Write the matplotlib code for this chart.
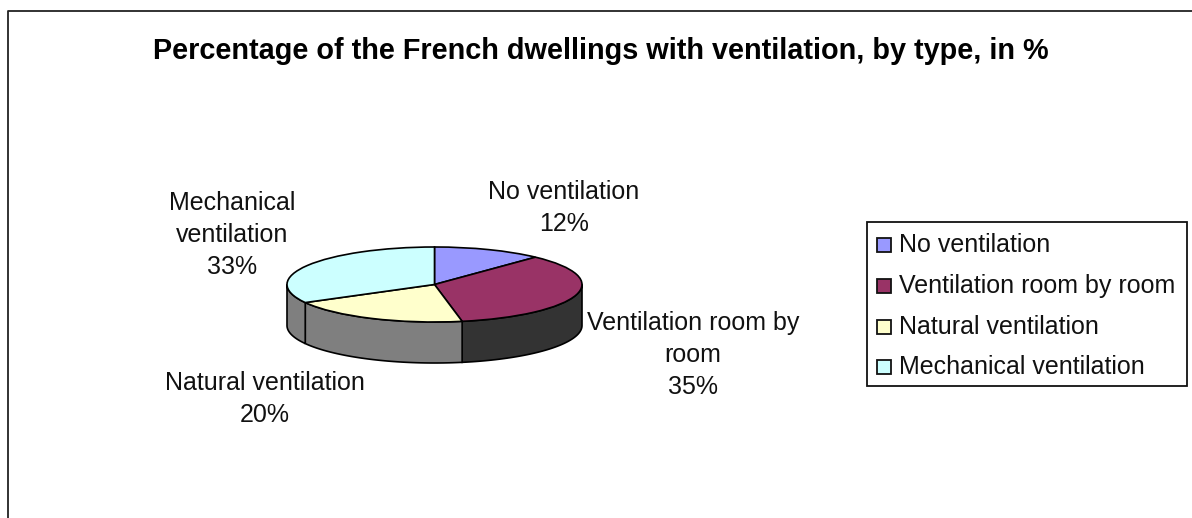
import numpy as np
import matplotlib
matplotlib.use("Agg")
import matplotlib.pyplot as plt
from matplotlib.patches import Polygon, Rectangle
from matplotlib.lines import Line2D

plt.rcParams['font.family'] = ['Liberation Sans', 'DejaVu Sans']

title = "Percentage of the French dwellings with ventilation, by type, in %"
categories = ["No ventilation", "Ventilation room by room", "Natural ventilation", "Mechanical ventilation"]
values = [12, 35, 20, 33]
colors = ["#9999FF", "#993366", "#FFFFCC", "#CCFFFF"]
side_colors = ["#4D4D80", "#333333", "#7F7F7F", "#7F7F7F"]
labels = ["No ventilation\n12%", "Ventilation room by\nroom\n35%", "Natural ventilation\n20%", "Mechanical\nventilation\n33%"]

W, H = 1192, 518
fig = plt.figure(figsize=(W / 100, H / 100), dpi=100, facecolor="white")

def px(x0, y0, x1, y1):
    return [x0 / W, 1 - y1 / H, (x1 - x0) / W, (y1 - y0) / H]

# chart frame
fa = fig.add_axes([0, 0, 1, 1], zorder=0)
fa.set_xlim(0, W); fa.set_ylim(H, 0); fa.axis("off")
fa.add_line(Line2D([8, 8, W], [H, 10.5, 10.5], color="#222222", lw=1.3))

# pie
left, right, top, bottom, depth = 287, 582, 247, 322, 41
ry = (bottom - top) / 2
ax = fig.add_axes(px(left, top, right, bottom + depth), zorder=1)
ax.pie(values, colors=colors, startangle=90, counterclock=False, radius=1,
       wedgeprops=dict(edgecolor="black", linewidth=1.2))
ax.set_aspect("auto")
ax.set_xlim(-1, 1)
ax.set_ylim(-1 - depth / ry, 1)
ax.axis("off")
d = depth / ry
fractions = np.cumsum([0] + values) / sum(values)
for i, c in enumerate(side_colors):
    a0 = 90 - 360 * fractions[i]
    a1 = 90 - 360 * fractions[i + 1]
    hi, lo = min(a0, 0), max(a1, -180)
    if hi <= lo:
        continue
    t = np.radians(np.linspace(lo, hi, 60))
    x, y = np.cos(t), np.sin(t)
    pts = np.r_[np.c_[x, y], np.c_[x[::-1], y[::-1] - d]]
    ax.add_patch(Polygon(pts, closed=True, fc=c, ec="black", lw=1.2, zorder=0.5, clip_on=False))

# title
fa.text(600.5, 51, title, ha="center", va="center", fontsize=20.8, fontweight="bold", color="black")

# slice labels
label_pos = [(564, 208), (693, 355), (265, 399), (232, 235)]
for s, (x, y) in zip(labels, label_pos):
    fa.text(x, y, s, ha="center", va="center", fontsize=18.0, color="#111111", linespacing=1.42, zorder=3)

# legend
fa.add_patch(Rectangle((866.5, 221.5), 320, 164, fc="white", ec="#111111", lw=1.3, zorder=2))
for name, col, y in zip(categories, colors, [244.5, 285.5, 326.5, 366.5]):
    fa.add_patch(Rectangle((877, y - 7), 14, 14, fc=col, ec="#111111", lw=1.3, zorder=3))
    fa.text(899, y, name, ha="left", va="center", fontsize=18.0, color="#111111", zorder=3)

fig.savefig("out.png", dpi=100, facecolor="white")
